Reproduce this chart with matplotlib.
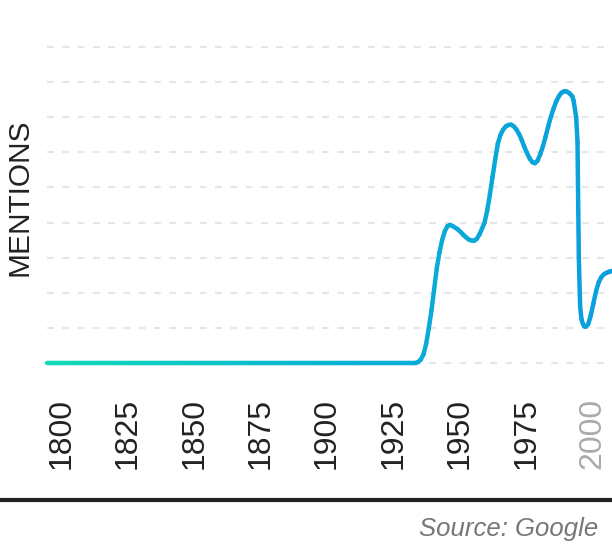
import numpy as np
import matplotlib
matplotlib.use("Agg")
import matplotlib.pyplot as plt
from matplotlib.collections import LineCollection
from matplotlib.colors import LinearSegmentedColormap
from matplotlib.lines import Line2D

plt.rcParams['font.family'] = ['Liberation Sans', 'DejaVu Sans']
plt.rcParams['lines.scale_dashes'] = False

# mentions per year (arbitrary units)
years = [1800, 1939, 1940, 1941, 1942, 1943, 1944, 1945, 1946, 1947, 1948,
         1949, 1950, 1951, 1952, 1953, 1954, 1955, 1956, 1957, 1958, 1959,
         1960, 1961, 1962, 1963, 1964, 1965, 1966, 1967, 1968, 1969, 1970,
         1971, 1972, 1973, 1974, 1975, 1976, 1977, 1978, 1979, 1980, 1981,
         1982, 1983, 1984, 1985, 1986, 1987, 1988, 1989, 1990, 1991, 1992,
         1993, 1994, 1995, 1996, 1997, 1998, 1998.5, 1999, 1999.5, 2000,
         2000.5, 2001, 2001.5, 2002, 2002.5, 2003, 2004, 2005, 2006, 2007,
         2008, 2009, 2010, 2011, 2012, 2013, 2014]
mentions = [0, 0, 0.03, 0.1, 0.25, 0.55, 1.0, 1.5, 2.1, 2.7, 3.15,
            3.5, 3.75, 3.9, 3.93, 3.9, 3.85, 3.8, 3.73, 3.65, 3.58, 3.52,
            3.49, 3.48, 3.53, 3.65, 3.82, 4.0, 4.35, 4.8, 5.3, 5.8, 6.25,
            6.5, 6.65, 6.74, 6.78, 6.79, 6.74, 6.65, 6.52, 6.35, 6.15, 5.98,
            5.82, 5.72, 5.69, 5.77, 5.95, 6.18, 6.45, 6.75, 7.02, 7.25, 7.45,
            7.6, 7.7, 7.74, 7.73, 7.68, 7.6, 7.48, 7.25, 7.0, 6.3,
            3.0, 1.6, 1.25, 1.12, 1.05, 1.03, 1.1, 1.35, 1.7, 2.05,
            2.3, 2.45, 2.53, 2.57, 2.6, 2.62, 2.64]
tick_years = [1800, 1825, 1850, 1875, 1900, 1925, 1950, 1975, 2000]
grid_levels = list(range(0, 10))

W, H = 612, 544
fig = plt.figure(figsize=(W / 100, H / 100), dpi=100)
ax = fig.add_axes([45 / W, (H - 370) / H, (W - 45) / W, 330 / H])
ax.set_xlim(1799.4, 2013.0)
ax.set_ylim(-0.2, 9.2)

for lv in grid_levels:
    ax.axhline(lv, color='#e4e6ea', lw=1.5, dashes=(5, 6), zorder=1,
               xmin=0.003)

# gradient line: teal on the left, blue on the right
x = np.array(years, dtype=float)
y = np.array(mentions, dtype=float)
# split long straight segments so the colour can change along them
xf = np.union1d(np.arange(1800, 2015, 1.0), x)
yf = np.interp(xf, x, y)
pts = np.column_stack([xf, yf]).reshape(-1, 1, 2)
segs = np.concatenate([pts[:-1], pts[1:]], axis=1)
cmap = LinearSegmentedColormap.from_list('tb', ['#12dbb8', '#0ab4d2', '#0a9edf'])
lc = LineCollection(segs, cmap=cmap, norm=plt.Normalize(1800, 2013),
                    linewidth=3.2, capstyle='round', joinstyle='round', zorder=3)
lc.set_array((xf[:-1] + xf[1:]) / 2)
ax.add_collection(lc)

ax.set_yticks([])
ax.set_xticks(tick_years)
labels = ax.set_xticklabels([str(t) for t in tick_years], rotation=90,
                            ha='left', va='top', fontsize=23, color='#222222')
labels[-1].set_color('#aaaaaa')
ax.tick_params(axis='x', length=0, pad=20)
for s in ax.spines.values():
    s.set_visible(False)

fig.text(20 / W, 1 - 197 / H, 'MENTIONS', rotation=90, ha='center', va='center',
         fontsize=21.5, color='#222222')

fig.add_artist(Line2D([0, 1], [1 - 500 / H, 1 - 500 / H], color='#222222',
                      lw=3, transform=fig.transFigure))
fig.text(598 / W, 1 - 536 / H, 'Source: Google', ha='right', va='baseline',
         fontsize=18.5, style='italic', color='#777777')

fig.savefig('out.png', dpi=100)
